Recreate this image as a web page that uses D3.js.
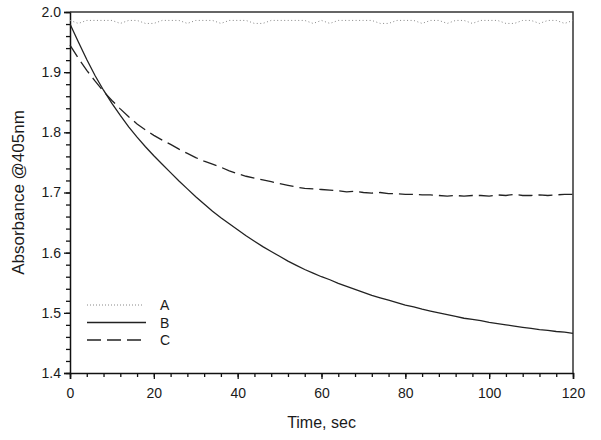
<!DOCTYPE html>
<html><head><meta charset="utf-8">
<script src="https://cdn.jsdelivr.net/npm/d3@7"></script>
<style>body{margin:0;background:#fff}svg{display:block}text{font-family:"Liberation Sans",Arial,sans-serif;fill:#1a1a1a}</style>
</head><body><svg id="c" width="601" height="440"></svg>
<script>
// Data (time in sec, absorbance @405nm)
const timeA = d3.range(0, 121, 2);
const seriesA = [1.986,1.981,1.986,1.986,1.986,1.986,1.981,1.986,1.986,1.981,1.981,1.986,1.986,1.986,1.981,1.986,1.986,1.986,1.981,1.986,1.986,1.986,1.981,1.981,1.986,1.986,1.986,1.986,1.986,1.981,1.986,1.981,1.986,1.986,1.986,1.986,1.986,1.981,1.981,1.986,1.986,1.986,1.981,1.986,1.986,1.981,1.986,1.986,1.981,1.986,1.986,1.986,1.981,1.981,1.986,1.986,1.981,1.986,1.986,1.981,1.986];
const timeBC = d3.range(0, 121, 2);
const seriesB = [1.980,1.950,1.921,1.894,1.870,1.848,1.828,1.809,1.792,1.776,1.761,1.747,1.733,1.719,1.706,1.693,1.681,1.669,1.658,1.648,1.638,1.628,1.619,1.610,1.602,1.594,1.586,1.579,1.572,1.566,1.560,1.555,1.549,1.544,1.539,1.534,1.529,1.525,1.521,1.517,1.513,1.510,1.506,1.503,1.500,1.497,1.494,1.491,1.489,1.487,1.484,1.482,1.480,1.478,1.476,1.474,1.472,1.471,1.469,1.468,1.466];
const seriesC = [1.945,1.923,1.903,1.885,1.868,1.853,1.839,1.826,1.814,1.804,1.795,1.787,1.780,1.772,1.765,1.758,1.752,1.747,1.742,1.736,1.731,1.727,1.724,1.721,1.718,1.715,1.712,1.709,1.707,1.706,1.705,1.704,1.703,1.701,1.702,1.700,1.699,1.700,1.698,1.698,1.697,1.697,1.696,1.696,1.695,1.694,1.695,1.694,1.695,1.695,1.694,1.696,1.695,1.697,1.695,1.695,1.696,1.695,1.696,1.697,1.697];
const xTicks = [0,20,40,60,80,100,120];
const yTicks = [1.4,1.5,1.6,1.7,1.8,1.9,2.0];
const legendLabels = ["A","B","C"];

const svg = d3.select("#c");
const L = 70, R = 573, T = 12, B = 373;
const x = d3.scaleLinear().domain([0,120]).range([L,R]);
const y = d3.scaleLinear().domain([1.4,2.0]).range([B,T]);

// minor ticks
const gx = svg.append("g").attr("transform",`translate(0,${B})`);
gx.call(d3.axisBottom(x).tickValues(d3.range(0,121,4)).tickSize(4).tickFormat(""));
gx.call(g=>g.select(".domain").remove());
const gx2 = svg.append("g").attr("transform",`translate(0,${B})`)
  .call(d3.axisBottom(x).tickValues(xTicks).tickSize(6).tickPadding(9).tickFormat(d3.format("d")));
gx2.selectAll("text").style("font-size","14px").style("font-family","Liberation Sans, Arial, sans-serif").attr("fill","#1a1a1a");

const gy = svg.append("g").attr("transform",`translate(${L},0)`);
gy.call(d3.axisLeft(y).tickValues(d3.range(0,31).map(i=>1.4+i*0.02)).tickSize(4).tickFormat(""));
gy.call(g=>g.select(".domain").remove());
const gy2 = svg.append("g").attr("transform",`translate(${L},0)`)
  .call(d3.axisLeft(y).tickValues(yTicks).tickSize(6).tickPadding(3).tickFormat(d3.format(".1f")));
gy2.selectAll("text").style("font-size","14px").style("font-family","Liberation Sans, Arial, sans-serif").attr("fill","#1a1a1a");
svg.selectAll(".tick line").attr("stroke","#111").attr("stroke-width",1.3);
svg.selectAll(".domain").attr("stroke","#111").attr("stroke-width",1.5);

// frame top & right
svg.append("path").attr("d",`M${L},${T}H${R}V${B}`).attr("fill","none").attr("stroke","#333").attr("stroke-width",1.5);

const line = d3.line().x(d=>x(d[0])).y(d=>y(d[1]));
svg.append("path").datum(timeA.map((t,i)=>[t,seriesA[i]])).attr("d",line)
  .attr("fill","none").attr("stroke","#888").attr("stroke-width",1).attr("stroke-dasharray","1,2.5");
svg.append("path").datum(timeBC.map((t,i)=>[t,seriesB[i]])).attr("d",line)
  .attr("fill","none").attr("stroke","#222").attr("stroke-width",1.3);
svg.append("path").datum(timeBC.map((t,i)=>[t,seriesC[i]])).attr("d",line)
  .attr("fill","none").attr("stroke","#222").attr("stroke-width",1.3).attr("stroke-dasharray","14,6");

// legend
const styles = [{c:"#888",w:1,d:"1,2",x2:143},{c:"#222",w:1.3,d:null,x2:146},{c:"#222",w:1.3,d:"14,6",x2:143}];
legendLabels.forEach((lab,i)=>{
  const yy = 305 + i*17.5;
  const s = styles[i];
  svg.append("line").attr("x1",87).attr("x2",s.x2).attr("y1",yy).attr("y2",yy)
    .attr("stroke",s.c).attr("stroke-width",s.w).attr("stroke-dasharray",s.d);
  svg.append("text").attr("x",160).attr("y",yy+5).style("font-size","14px").text(lab);
});

svg.append("text").attr("x",(L+R)/2).attr("y",428).attr("text-anchor","middle").style("font-size","16px").text("Time, sec");
svg.append("text").attr("transform",`translate(24,${(T+B)/2}) rotate(-90)`).attr("text-anchor","middle").style("font-size","17px").text("Absorbance @405nm");
</script></body></html>
